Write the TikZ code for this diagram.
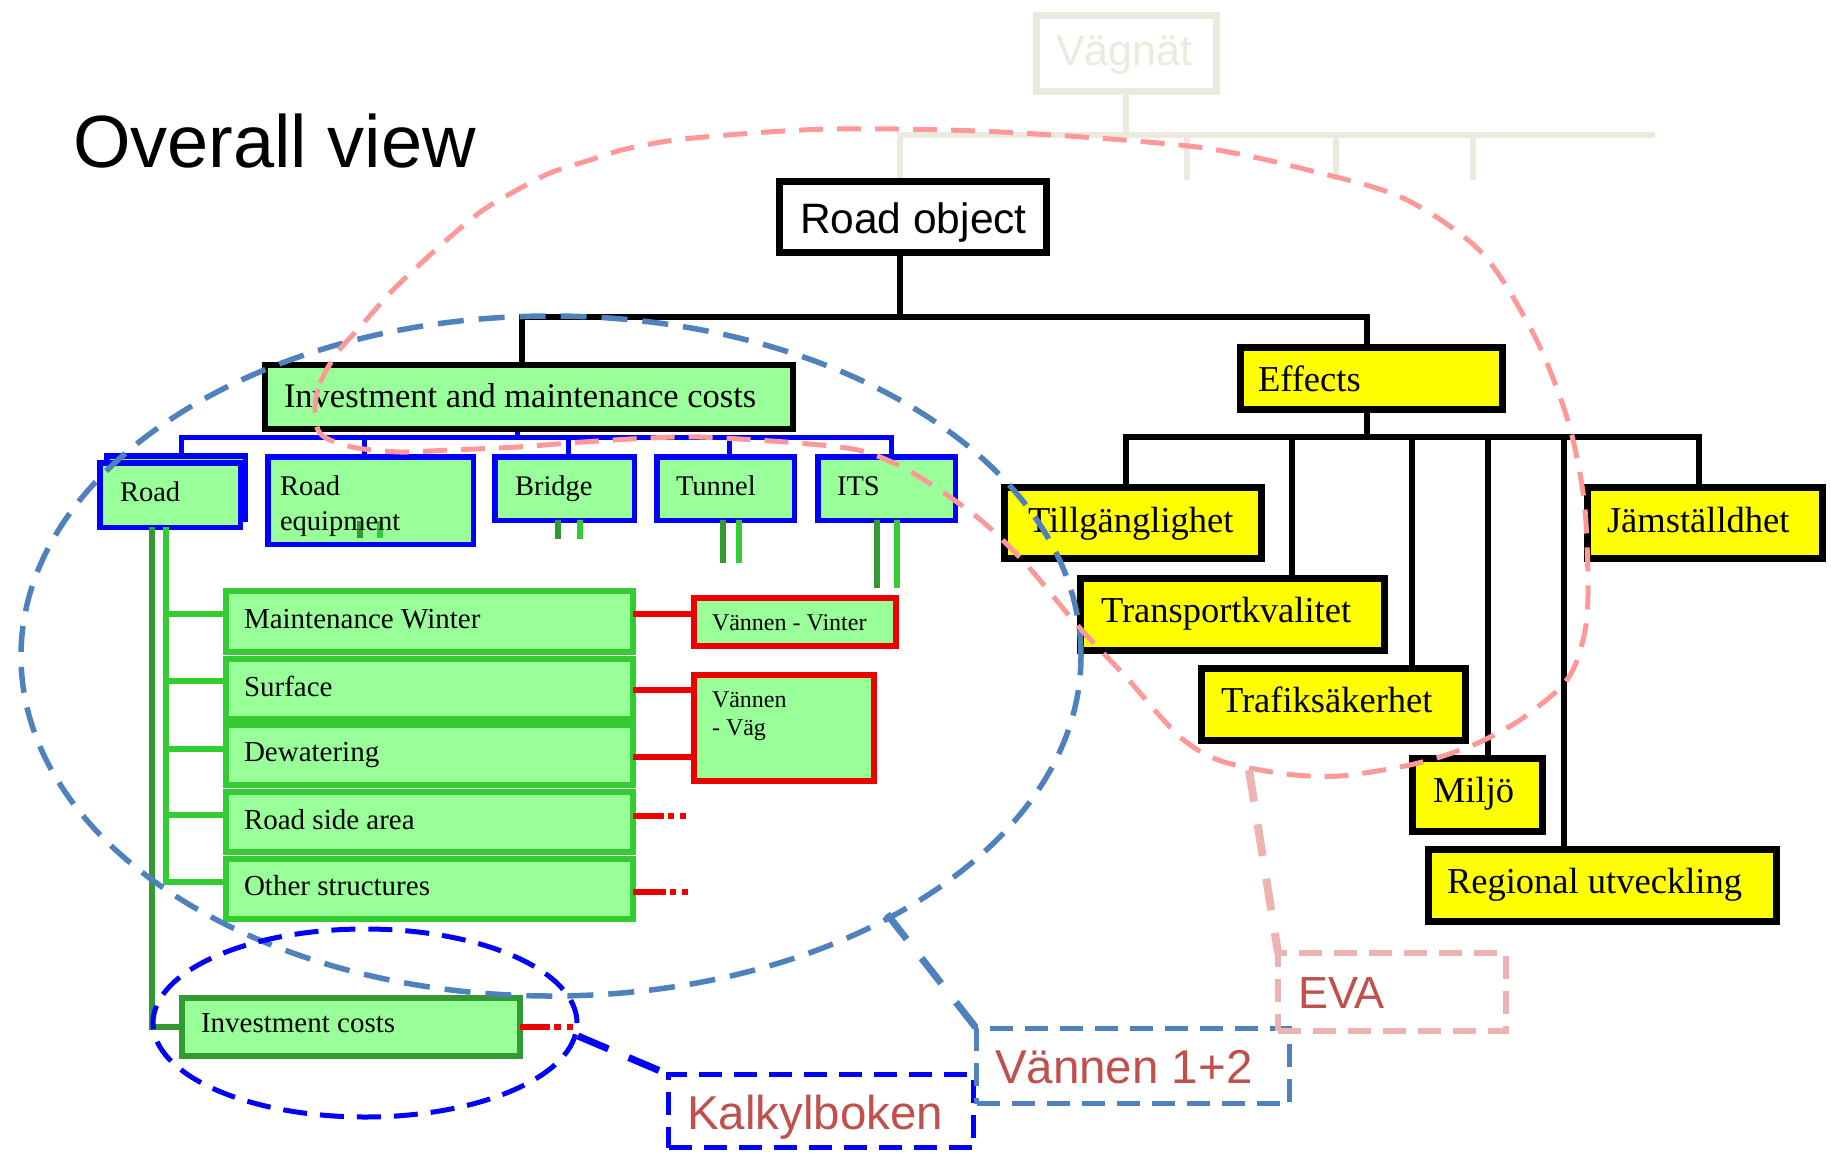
\documentclass[tikz,border=0pt]{standalone}
\usepackage{fontspec}
\setmainfont{Liberation Serif}
\setsansfont{Liberation Sans}
\definecolor{lgreen}{HTML}{99FF99}
\definecolor{mgreen}{HTML}{33CC33}
\definecolor{dgreen}{HTML}{339933}
\definecolor{pblue}{HTML}{0000FF}
\definecolor{sblue}{HTML}{4F81BD}
\definecolor{pinkE}{HTML}{FF9999}
\definecolor{pinkL}{HTML}{EDB3B1}
\definecolor{txtred}{HTML}{C0504D}
\definecolor{beige}{HTML}{ECE9DE}
\definecolor{rred}{HTML}{EE0000}
\definecolor{yel}{HTML}{FFFF00}
\newcommand\setfs[1]{\fontsize{#1}{#1}\selectfont}
\pgfdeclarelayer{background}
\pgfsetlayers{background,main}
\begin{document}
\begin{tikzpicture}[x=1pt,y=-1pt,line join=miter,
  box/.style={draw,inner sep=0pt,outer sep=0pt},
  blkbox/.style={box,draw=black,line width=7pt},
  yelbox/.style={blkbox,fill=yel},
  bluebox/.style={box,draw=pblue,fill=lgreen,line width=5.5pt},
  grbox/.style={box,draw=mgreen,fill=lgreen,line width=6pt},
  redbox/.style={box,draw=rred,fill=lgreen,line width=6pt},
  txt/.style={inner sep=0pt,outer sep=0pt,anchor=base west},
  serA/.style={txt,font=\setfs{36.5}},
  serB/.style={txt,font=\setfs{28.5}},
  serC/.style={txt,font=\setfs{29}},
  serD/.style={txt,font=\setfs{24}},
  bigsans/.style={txt,font={\sffamily\setfs{47.5}},text=txtred},
  blkl/.style={draw=black,line width=6pt},
  bluel/.style={draw=pblue,line width=5pt},
  beigel/.style={draw=beige,line width=6pt},
  dgl/.style={draw=dgreen,line width=6pt},
  mgl/.style={draw=mgreen,line width=6pt},
  redl/.style={draw=rred,line width=6pt}]
\useasboundingbox (0,0) rectangle (1831,1160);

% title
\node[txt,font={\sffamily\setfs{74}}] (title) at (73,167) {Overall view};

% Vagnat (faded)
\node[box,draw=beige,line width=7pt,minimum width=180pt,minimum height=76pt] (vn) at (1126.5,53.5) {};
\node[txt,text=beige,font={\sffamily\setfs{43}}] (vnt) at (1056,65) {Vägnät};

% main boxes
\node[blkbox,fill=white,minimum width=267pt,minimum height=71pt] (ro) at (913,217) {};
\node[box,draw=black,line width=6pt,fill=lgreen,minimum width=528pt,minimum height=64pt] (inv) at (529,397) {};
\node[yelbox,minimum width=262pt,minimum height=62pt] (eff) at (1371.5,378.5) {};
\node[yelbox,minimum width=257pt,minimum height=71pt] (till) at (1133,523) {};
\node[yelbox,minimum width=235pt,minimum height=71pt] (jam) at (1705,523) {};
\node[yelbox,minimum width=304pt,minimum height=72pt] (transp) at (1232.5,614.5) {};
\node[yelbox,minimum width=264pt,minimum height=72pt] (trafik) at (1333.5,704.5) {};
\node[yelbox,minimum width=130pt,minimum height=73pt] (miljo) at (1477.5,795) {};
\node[yelbox,minimum width=348pt,minimum height=72pt] (reg) at (1602.5,885.5) {};

% blue boxes
\node[bluebox,minimum width=138.5pt,minimum height=63.5pt] (roadB) at (176,487.5) {};
\node[bluebox,minimum width=140.5pt,minimum height=64.5pt] (roadF) at (170,495) {};
\node[bluebox,minimum width=205.5pt,minimum height=87.5pt] (roadeq) at (370.5,500.5) {};
\node[bluebox,minimum width=139.5pt,minimum height=63.5pt] (bridge) at (564.5,488.5) {};
\node[bluebox,minimum width=137.5pt,minimum height=63.5pt] (tunnel) at (725.5,488.5) {};
\node[bluebox,minimum width=137.5pt,minimum height=63.5pt] (its) at (886.5,488.5) {};

% connectors of the top tree (behind the boxes)
\begin{pgfonlayer}{background}
\draw[beigel] (1126,0 |- vn.south) -- (1126,135);
\draw[beigel] (900,0 |- ro.north) -- (900,135) -- (1655,135);
\draw[beigel] (1187,135) -- (1187,180);
\draw[beigel] (1336,135) -- (1336,180);
\draw[beigel] (1473,135) -- (1473,180);
\draw[blkl] (900,0 |- ro.south) -- (900,317);
\draw[blkl] (522,0 |- inv.north) -- (522,317) -- (1367,317) -- (1367,0 |- eff.north);
\draw[blkl] (1367,0 |- eff.south) -- (1367,437);
\draw[blkl] (1126,0 |- till.north) -- (1126,437) -- (1699,437) -- (1699,0 |- jam.north);
\draw[blkl] (1292,437) -- (1292,0 |- transp.north);
\draw[blkl] (1412,437) -- (1412,0 |- trafik.north);
\draw[blkl] (1488,437) -- (1488,0 |- miljo.north);
\draw[blkl] (1564,437) -- (1564,0 |- reg.north);
\draw[bluel] ([xshift=-12pt]inv.south) -- (517,437);
\draw[bluel] (181,0 |- roadB.north) -- (181,437) -- (891,437) -- (891,0 |- its.north);
\draw[bluel] (364,437) -- (364,0 |- roadeq.north);
\draw[bluel] (568,437) -- (568,0 |- bridge.north);
\draw[bluel] (729,437) -- (729,0 |- tunnel.north);
\end{pgfonlayer}

% green boxes
\node[grbox,minimum width=407pt,minimum height=61pt] (mw) at (429.5,621.5) {};
\node[grbox,minimum width=407pt,minimum height=60pt] (surf) at (429.5,689) {};
\node[grbox,minimum width=407pt,minimum height=60pt] (dew) at (429.5,755) {};
\node[grbox,minimum width=407pt,minimum height=60pt] (rsa) at (429.5,822) {};
\node[grbox,minimum width=407pt,minimum height=60pt] (os) at (429.5,889) {};
\node[box,draw=dgreen,fill=lgreen,line width=6pt,minimum width=338pt,minimum height=58pt] (ic) at (351,1027) {};

% red boxes
\node[redbox,minimum width=202pt,minimum height=47.6pt] (vinter) at (795,621.8) {};
\node[redbox,minimum width=180pt,minimum height=105.5pt] (vag) at (784,727.75) {};

% green tree of Road
\draw[dgl] (152,0 |- roadF.south) -- (152,1027) -- (ic.west);
\draw[mgl] (166,0 |- roadF.south) -- (166,882) -- (os.west |- 0,882);
\draw[mgl] (166,614) -- (mw.west |- 0,614);
\draw[mgl] (166,681) -- (surf.west |- 0,681);
\draw[mgl] (166,749) -- (dew.west |- 0,749);
\draw[mgl] (166,815) -- (rsa.west |- 0,815);

% short ticks under the blue boxes
\draw[dgl] (360,521) -- (360,538);
\draw[mgl] (380,521) -- (380,538);
\draw[dgl] (557.5,0 |- bridge.south) -- (557.5,539);
\draw[mgl] (580,0 |- bridge.south) -- (580,539);
\draw[dgl] (722.5,0 |- tunnel.south) -- (722.5,563);
\draw[mgl] (738.5,0 |- tunnel.south) -- (738.5,563);
\draw[dgl] (877,0 |- its.south) -- (877,588);
\draw[mgl] (897,0 |- its.south) -- (897,588);

% red connectors
\draw[redl] (mw.east |- 0,614) -- (vinter.west |- 0,614);
\draw[redl] (surf.east |- 0,690) -- (vag.west |- 0,690);
\draw[redl] (dew.east |- 0,757) -- (vag.west |- 0,757);
\draw[redl,dash pattern=on 31pt off 4pt on 6pt off 6pt on 6pt off 60pt] (rsa.east |- 0,816) -- ++(54,0);
\draw[redl,dash pattern=on 33pt off 4pt on 6pt off 6pt on 6pt off 60pt] (os.east |- 0,891.5) -- ++(56,0);
\draw[redl,dash pattern=on 30pt off 4pt on 7pt off 6pt on 6pt off 60pt] (ic.east |- 0,1027) -- ++(54,0);

% texts
\node[txt,font={\sffamily\setfs{42.5}}] (rot) at (800,233) {Road object};
\node[txt,font=\setfs{34.5}] (invt) at (284,407) {Investment and maintenance costs};
\node[serA] (efft) at (1258,391) {Effects};
\node[serA] (tillt) at (1028,532) {Tillgänglighet};
\node[serA] (jamt) at (1607,532) {Jämställdhet};
\node[serA] (transpt) at (1101,622) {Transportkvalitet};
\node[serA] (trafikt) at (1221,712) {Trafiksäkerhet};
\node[serA] (miljot) at (1433,802) {Miljö};
\node[serA] (regt) at (1447,893) {Regional utveckling};
\node[serB] (roadt) at (120,501) {Road};
\node[serB] (roadeqt1) at (280,495) {Road};
\node[serB] (roadeqt2) at (280,530) {equipment};
\node[serB] (bridget) at (515,495) {Bridge};
\node[serB] (tunnelt) at (676,495) {Tunnel};
\node[serB] (itst) at (837,495) {ITS};
\node[serC] (mwt) at (244,628) {Maintenance Winter};
\node[serC] (surft) at (244,696) {Surface};
\node[serC] (dewt) at (244,761) {Dewatering};
\node[serC] (rsat) at (244,829) {Road side area};
\node[serC] (ost) at (244,895) {Other structures};
\node[serC] (ict) at (201,1032) {Investment costs};
\node[serD] (vintert) at (712,630) {Vännen - Vinter};
\node[serD] (vagt1) at (712,707) {Vännen};
\node[serD] (vagt2) at (712,735) {- Väg};

% source boxes
\node[box,draw=pblue,line width=5pt,dash pattern=on 23pt off 12pt,minimum width=305pt,minimum height=73pt] (kalk) at (821,1111) {};
\node[box,draw=sblue,line width=5pt,dash pattern=on 23pt off 12pt,minimum width=313pt,minimum height=75pt] (v12) at (1133,1066) {};
\node[box,draw=pinkL,line width=6pt,dash pattern=on 23pt off 12pt,minimum width=228pt,minimum height=78pt] (eva) at (1392,992) {};
\node[bigsans] (kalkt) at (687,1129) {Kalkylboken};
\node[bigsans] (v12t) at (995,1083) {Vännen 1+2};
\node[bigsans,font={\sffamily\setfs{45}}] (evat) at (1298,1008) {EVA};

% dashed groupings
\draw[sblue,line width=5.5pt,dash pattern=on 26pt off 15pt] (551,656) ellipse [x radius=530pt, y radius=340pt];
\draw[pblue,line width=5pt,dash pattern=on 24pt off 13pt] (365,1023) ellipse [x radius=212pt, y radius=94pt];
\draw[pinkE,line width=5pt,dash pattern=on 24pt off 14pt] plot[smooth cycle] coordinates {
 (315,407) (320,383) (337,353) (360,327) (390,293) (417,267) (450,237) (483,210) (517,190)
 (550,173) (590,160) (630,148) (693,138) (830,129) (1001,132) (1197,147) (1316,172)
 (1405,199) (1482,253) (1535,337) (1568,421) (1584,500) (1588,580) (1586,625) (1576,663)
 (1560,688) (1520,720) (1480,742) (1440,757) (1400,767) (1339,776) (1286,774) (1221,761)
 (1179,736) (1126,677) (1078,626) (1025,563) (977,517) (913,473) (862,451) (798,443)
 (700,437) (650,438) (583,442) (517,447) (450,450) (400,452) (357,448) (330,440) (318,430)};

% links from groupings to sources
\coordinate (sbT) at (887,914);
\coordinate (pbT) at (578,1036);
\coordinate (pkT) at (1249,770);
\draw[sblue,line width=7pt,dash pattern=on 32pt off 24pt] (sbT) -- (v12.north west);
\draw[pblue,line width=7pt,dash pattern=on 33pt off 22pt] (pbT) -- (kalk.north west);
\draw[pinkL,line width=8pt,dash pattern=on 32pt off 23pt] (pkT) -- (eva.north west);
\end{tikzpicture}
\end{document}
